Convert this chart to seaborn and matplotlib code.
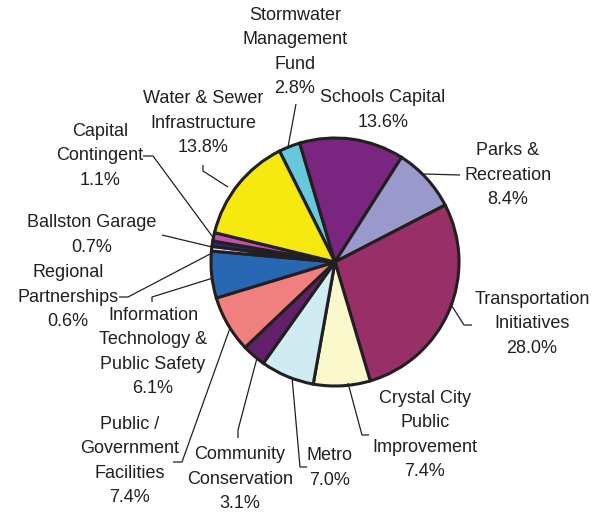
import matplotlib
matplotlib.use("Agg")
import matplotlib.pyplot as plt
import seaborn as sns

sns.set_style("white")
plt.rcParams['font.family'] = ['Liberation Sans', 'DejaVu Sans']

categories = ["Stormwater\nManagement\nFund", "Schools Capital", "Parks &\nRecreation",
              "Transportation\nInitiatives", "Crystal City\nPublic\nImprovement", "Metro",
              "Community\nConservation", "Public /\nGovernment\nFacilities",
              "Information\nTechnology &\nPublic Safety", "Regional\nPartnerships",
              "Ballston Garage", "Capital\nContingent", "Water & Sewer\nInfrastructure"]
values = [2.8, 13.6, 8.4, 28.0, 7.4, 7.0, 3.1, 7.4, 6.1, 0.6, 0.7, 1.1, 13.8]
colors = ["#66C8DC", "#7A2580", "#9A99CB", "#982F66", "#FBF8CC", "#D0EBF2", "#62206A",
          "#F08080", "#2867B2", "#ECECF4", "#2A2A7A", "#C050A8", "#F5E90F"]

W, H = 602, 512
CX, CY, R = 335, 262, 124

def d(px, py):
    return ((px - CX) / R, (CY - py) / R)

fig = plt.figure(figsize=(W / 100, H / 100), dpi=100)
ax = fig.add_axes([0, 0, 1, 1])
ax.pie(values, colors=colors, startangle=116.6, counterclock=False, radius=1.0,
       wedgeprops=dict(edgecolor="#231F20", linewidth=2.2))
ax.set_xlim(d(0, 0)[0], d(W, 0)[0])
ax.set_ylim(d(0, H)[1], d(0, 0)[1])
ax.set_aspect("equal")
ax.axis("off")

# label layout: (text center px, text center py, leader path in px)
layout = [
    (295, 52, [(296, 104), (288, 147)]),
    (383, 110, []),
    (508, 175, [(460, 175), (424, 174)]),
    (532, 324, [(472, 325), (464, 325), (450, 303)]),
    (425, 435, [(369, 435), (362, 435), (348, 383)]),
    (330, 468, [(307, 467), (300, 467), (292, 377)]),
    (240, 479, [(238, 438), (238, 430), (257, 358)]),
    (130, 461, [(173, 462), (182, 462), (230, 328)]),
    (153, 352, [(152, 302), (152, 297), (213, 278)]),
    (68, 297, [(119, 297), (128, 297), (212, 253)]),
    (92, 235, [(162, 235), (212, 247)]),
    (100, 156, [(143, 156), (153, 156), (215, 240)]),
    (203, 123, [(203, 165), (203, 171), (228, 187)]),
]

tc = "#231F20"
for cat, val, (tx, ty, path) in zip(categories, values, layout):
    x, y = d(tx, ty)
    ax.text(x, y, f"{cat}\n{val:.1f}%", ha="center", va="center", fontsize=13,
            color=tc, linespacing=1.55)
    if path:
        pts = [d(px, py) for px, py in path]
        ax.plot([p[0] for p in pts], [p[1] for p in pts], color=tc, lw=0.9,
                solid_capstyle="butt")

fig.savefig("out.png", dpi=100)
